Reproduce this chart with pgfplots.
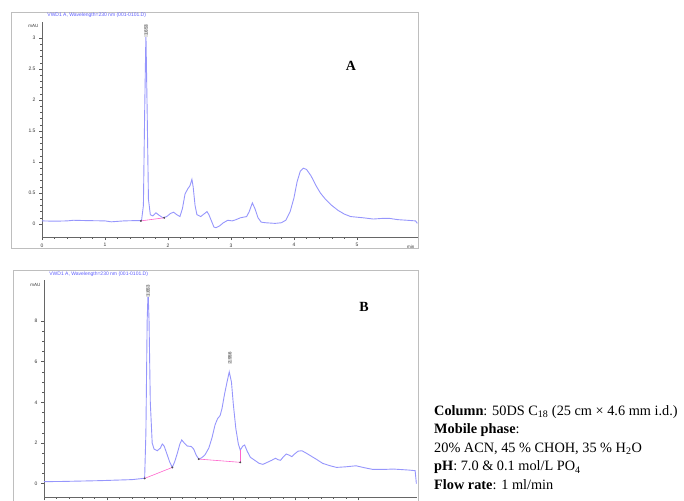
\documentclass[border=0pt]{standalone}
\usepackage{pgfplots}
\pgfplotsset{compat=1.18}
\usepackage{fontspec}
\setmainfont{Liberation Serif}
\newfontfamily\arial{Liberation Sans}

\definecolor{trace}{RGB}{150,150,252}
\definecolor{bline}{RGB}{255,100,205}
\definecolor{ttl}{RGB}{90,90,255}
\definecolor{frm}{RGB}{190,190,190}

\pgfplotsset{
  chrom/.style={
    scale only axis, anchor=south west,
    axis x line*=bottom, axis y line*=left,
    axis line style={gray!80!black, line width=0.5pt},
    tick align=outside, major tick length=3pt, minor tick length=1.6pt,
    tick style={gray!70!black, line width=0.4pt},
    tick label style={font=\arial\fontsize{5}{6}\selectfont, text=black!80},
    /pgf/number format/assume math mode=true,
    xtick={0,1,2,3,4,5}, minor x tick num=4,
    xmin=0, clip=false,
  },
}

\begin{document}
\begin{tikzpicture}[x=1pt,y=1pt]
\path[use as bounding box] (0pt,0pt) rectangle (684pt,-500pt);

% panel frames
\draw[frm, line width=0.8pt] (11pt,-12pt) rectangle (418pt,-248pt);
\draw[frm, line width=0.8pt] (13pt,-504pt) |- (418pt,-270pt) -- (418pt,-504pt);

% ---- panel A ----
\begin{axis}[chrom, at={(42pt,-237pt)}, width=376pt, height=215pt,
  xmax=5.97, ymin=-0.21, ymax=3.26,
  ytick={0,0.5,1,1.5,2,2.5,3}, minor y tick num=4,
  yticklabels={0,0.5,1,1.5,2,2.5,3}]
\addplot[trace, line width=0.9pt] coordinates {
(0,0.05) (0.2,0.045) (0.4,0.05) (0.5,0.06) (0.7,0.055) (1.0,0.05) (1.1,0.035)
(1.3,0.05) (1.5,0.055) (1.58,0.055) (1.61,0.3) (1.63,1.8) (1.65,3.08) (1.67,1.8)
(1.69,0.4) (1.72,0.15) (1.76,0.13) (1.81,0.18) (1.86,0.14) (1.92,0.1) (1.98,0.12)
(2.04,0.17) (2.09,0.19) (2.14,0.15) (2.19,0.12) (2.23,0.25) (2.27,0.48) (2.31,0.56)
(2.35,0.62) (2.38,0.72) (2.40,0.6) (2.43,0.3) (2.46,0.15) (2.52,0.12) (2.57,0.16)
(2.62,0.2) (2.65,0.15) (2.69,0.05) (2.73,-0.05) (2.76,-0.06) (2.82,-0.03) (2.88,0.02)
(2.95,0.06) (3.02,0.05) (3.08,0.07) (3.15,0.1) (3.25,0.12) (3.29,0.2) (3.34,0.34)
(3.38,0.25) (3.43,0.1) (3.48,0.03) (3.55,0.02) (3.7,0.01) (3.8,0.02) (3.87,0.06)
(3.94,0.2) (4.0,0.42) (4.05,0.68) (4.1,0.85) (4.15,0.9) (4.2,0.88) (4.27,0.78)
(4.35,0.62) (4.42,0.5) (4.5,0.4) (4.6,0.3) (4.7,0.22) (4.8,0.16) (4.9,0.12)
(5.0,0.11) (5.1,0.1) (5.26,0.08) (5.4,0.09) (5.52,0.09) (5.65,0.07) (5.8,0.06)
(5.93,0.05) (5.96,0.01)};
\addplot[bline, line width=0.6pt, mark=*, mark size=0.6pt,
  mark options={black!70, fill=black!70}] coordinates {(1.57,0.05) (1.94,0.1)};
\node[rotate=90, font=\arial\fontsize{4.5}{5}\selectfont, text=black!70,
  fill=black!12, inner sep=0.6pt, anchor=east] at (axis cs:1.653,3.23) {1.653};
\node[font=\arial\fontsize{4.5}{5}\selectfont, anchor=east, text=black!80]
  at (rel axis cs:0,0.98) {mAU\ };
\node[font=\arial\fontsize{4.5}{5}\selectfont, anchor=north east, text=black!80]
  at (rel axis cs:1,-0.02) {min};
\node[font=\arial\fontsize{5}{6}\selectfont, text=ttl, anchor=west]
  at (rel axis cs:0.005,1.03) {VWD1 A, Wavelength=230 nm (001-0101.D)};
\end{axis}

% ---- panel B ----
\begin{axis}[chrom, at={(44pt,-497.3pt)}, width=373pt, height=217pt,
  xmax=5.93, ymin=-0.67, ymax=10,
  ytick={0,2,4,6,8}, minor y tick num=3]
\addplot[trace, line width=0.9pt] coordinates {
(0,0.1) (0.3,0.11) (0.6,0.13) (0.9,0.15) (1.2,0.18) (1.4,0.2) (1.55,0.25) (1.6,0.27)
(1.62,2.5) (1.64,8.0) (1.655,9.5) (1.67,8.0) (1.69,4.0) (1.72,2.0) (1.75,1.7)
(1.8,1.62) (1.85,1.75) (1.88,1.95) (1.91,1.85) (1.95,1.5) (2.0,1.05) (2.04,0.8)
(2.08,1.1) (2.12,1.5) (2.16,1.95) (2.19,2.15) (2.23,2.0) (2.28,1.85) (2.34,1.83)
(2.38,1.7) (2.42,1.4) (2.46,1.21) (2.51,1.28) (2.56,1.42) (2.62,1.75) (2.67,2.25)
(2.72,2.9) (2.76,3.2) (2.8,3.35) (2.83,3.7) (2.87,4.4) (2.91,5.0) (2.945,5.5)
(2.98,5.0) (3.01,3.9) (3.05,2.7) (3.09,1.95) (3.12,1.65) (3.16,1.85) (3.19,1.9)
(3.23,1.6) (3.28,1.3) (3.35,1.15) (3.42,1.0) (3.48,0.95) (3.55,1.05) (3.62,1.15)
(3.68,1.25) (3.72,1.18) (3.76,1.15) (3.8,1.3) (3.85,1.46) (3.9,1.4) (3.94,1.33)
(3.98,1.45) (4.04,1.6) (4.1,1.62) (4.17,1.5) (4.25,1.35) (4.33,1.2) (4.43,1.0)
(4.55,0.88) (4.65,0.8) (4.8,0.83) (4.96,0.88) (5.1,0.78) (5.23,0.7) (5.4,0.7)
(5.55,0.72) (5.65,0.7) (5.8,0.67) (5.9,0.64) (5.92,0.0)};
\addplot[bline, line width=0.6pt, mark=*, mark size=0.6pt,
  mark options={black!70, fill=black!70}] coordinates {(1.6,0.26) (2.04,0.8)};
\addplot[bline, line width=0.6pt, mark=*, mark size=0.6pt,
  mark options={black!70, fill=black!70}] coordinates {(2.46,1.21) (3.12,1.05)};
\addplot[bline, line width=0.6pt] coordinates {(3.12,1.05) (3.12,1.65)};
\node[rotate=90, font=\arial\fontsize{4.5}{5}\selectfont, text=black!70,
  fill=black!12, inner sep=0.6pt, anchor=east] at (axis cs:1.653,9.8) {1.653};
\node[rotate=90, font=\arial\fontsize{4.5}{5}\selectfont, text=black!70,
  fill=black!12, inner sep=0.6pt, anchor=east] at (axis cs:2.956,6.5) {2.956};
\node[font=\arial\fontsize{4.5}{5}\selectfont, anchor=east, text=black!80]
  at (rel axis cs:0,0.98) {mAU\ };
\node[font=\arial\fontsize{5}{6}\selectfont, text=ttl, anchor=west]
  at (rel axis cs:0.005,1.03) {VWD1 A, Wavelength=230 nm (001-0101.D)};
\end{axis}

% panel letters
\node[font=\bfseries\fontsize{14}{16}\selectfont] at (351pt,-66pt) {A};
\node[font=\bfseries\fontsize{14}{16}\selectfont] at (364pt,-307pt) {B};

% conditions
\node[anchor=north west, align=left, inner sep=0pt,
  font=\fontsize{14.3}{18.6}\selectfont] at (434pt,-405pt) {%
\textbf{Column}: 50DS C\textsubscript{18} (25 cm × 4.6 mm i.d.)\\
\textbf{Mobile phase}:\\
20\% ACN, 45 \% CHOH, 35 \% H\textsubscript{2}O\\
\textbf{pH}: 7.0 \& 0.1 mol/L PO\textsubscript{4}\\
\textbf{Flow rate}: 1 ml/min};
\end{tikzpicture}
\end{document}
